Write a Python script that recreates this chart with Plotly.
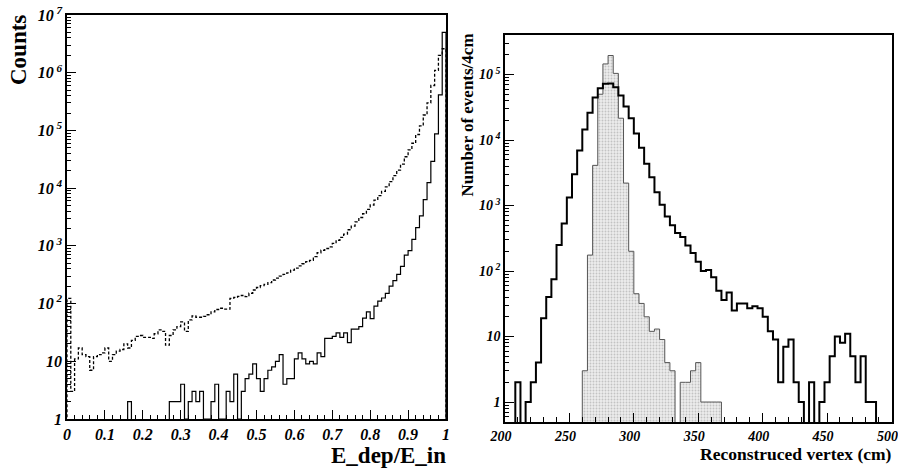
import plotly.graph_objects as go
import numpy as np

# ---------------- Left panel: E_dep/E_in (100 bins, 0..1) ----------------
edep_edges_lo = 0.0
edep_bin_w = 0.01
edep_all = [123, 3, 11, 17, 13, 12, 7, 12, 13, 14,
            17, 10, 13, 15, 16, 20, 17, 23, 27, 28,
            26, 26, 25, 30, 35, 33, 19, 28, 35, 40,
            48, 33, 52, 61, 58, 58, 60, 64, 72, 79,
            83, 80, 80, 123, 128, 133, 138, 132, 151, 172,
            190, 205, 215, 230, 256, 275, 300, 320, 340, 380,
            410, 450, 490, 531, 560, 650, 760, 840, 900, 960,
            1100, 1250, 1400, 1600, 1900, 2200, 2600, 3100, 3600, 4300,
            5100, 6200, 7400, 8800, 10500, 13000, 16500, 20500, 26000, 35000,
            46000, 60000, 85000, 120000, 185000, 300000, 600000, 1100000, 2000000, 2600000]
edep_sel = [0, 0, 0, 0, 0, 0, 0, 0, 0, 0,
            0, 0, 0, 0, 0, 0, 2, 0, 0, 0,
            0, 0, 0, 0, 0, 0, 0, 2, 2, 2,
            4, 1, 2, 3, 2, 3, 1, 1, 2, 4,
            1, 1, 3, 2, 6, 1, 3, 5, 6, 9,
            5, 3, 5, 7, 8, 10, 13, 4, 5, 5,
            11, 14, 11, 9, 10, 9, 14, 12, 25, 25,
            27, 31, 26, 31, 21, 36, 36, 40, 56, 72,
            55, 90, 110, 125, 150, 200, 250, 320, 440, 690,
            830, 1300, 2070, 3300, 6300, 12500, 29000, 87000, 412000, 5000000]

# ---------------- Right panel: reconstructed vertex (4 cm bins, 200..500) ----------------
vtx_lo = 200
vtx_bin_w = 4
vtx_all = [0, 0, 2, 0, 1, 2, 4, 19, 40, 75,
           250, 530, 1330, 3000, 6900, 14500, 26000, 44500, 61500, 72000,
           73000, 64000, 48000, 32500, 21500, 12600, 7600, 4350, 2700, 1600,
           1030, 680, 500, 380, 330, 245, 188, 138, 100, 104,
           80, 50, 36, 47, 25, 32, 32, 27, 29, 27,
           20, 12, 9, 2, 7, 9, 2, 1, 0, 2,
           0, 1, 2, 5, 10, 8, 11, 5, 2, 5,
           1, 1, 0, 0, 0]
vtx_shaded = [0, 0, 0, 0, 0, 0, 0, 0, 0, 0,
              0, 0, 0, 0, 0, 3, 175, 4100, 50000, 145000,
              195000, 104000, 21500, 2200, 200, 45, 32, 20, 12, 13,
              9, 4, 3, 0, 2, 2, 3, 4, 1, 1,
              1, 1, 0, 0, 0, 0, 0, 0, 0, 0,
              0, 0, 0, 0, 0, 0, 0, 0, 0, 0,
              0, 0, 0, 0, 0, 0, 0, 0, 0, 0,
              0, 0, 0, 0, 0]

TINY = 1e-3


def step_xy(lo, w, vals):
    n = len(vals)
    edges = [lo + w * i for i in range(n + 1)]
    v = [x if x > 0 else TINY for x in vals]
    xs = [edges[0]] + edges[:n] + [edges[n], edges[n]]
    ys = [TINY] + v + [v[-1], TINY]
    return xs, ys


W, H = 898, 471
serif = "Liberation Serif"

fig = go.Figure()

# left panel
x, y = step_xy(edep_edges_lo, edep_bin_w, edep_all)
fig.add_trace(go.Scatter(x=x, y=y, mode="lines", line=dict(shape="hv", color="black", width=1.3, dash="3px,2px"),
                         xaxis="x", yaxis="y", showlegend=False, hoverinfo="skip"))
x, y = step_xy(edep_edges_lo, edep_bin_w, edep_sel)
fig.add_trace(go.Scatter(x=x, y=y, mode="lines", line=dict(shape="hv", color="black", width=1.2),
                         xaxis="x", yaxis="y", showlegend=False, hoverinfo="skip"))

# right panel
x, y = step_xy(vtx_lo, vtx_bin_w, vtx_shaded)
fig.add_trace(go.Scatter(x=x, y=y, mode="lines", line=dict(shape="hv", color="#555555", width=1),
                         fill="toself", fillcolor="#e6e6e6",
                         fillpattern=dict(shape=".", bgcolor="#ececec", fgcolor="#9a9a9a", size=3, solidity=0.3),
                         xaxis="x2", yaxis="y2", showlegend=False, hoverinfo="skip"))
x, y = step_xy(vtx_lo, vtx_bin_w, vtx_all)
fig.add_trace(go.Scatter(x=x, y=y, mode="lines", line=dict(shape="hv", color="black", width=2),
                         xaxis="x2", yaxis="y2", showlegend=False, hoverinfo="skip"))


def px_x(p):
    return p / W


def px_y(p):
    return 1 - p / H


def sup(d):
    return "1" if d == 0 else ("10" if d == 1 else "10<sup> %d</sup>" % d)


def log_minor(d0, d1):
    vals = []
    for d in range(d0, d1 + 1):
        for m in range(2, 10):
            vals.append(m * 10 ** d)
    return vals


tick_font_l = dict(family=serif, size=16, color="black", weight="bold", style="italic")
tick_font_r = dict(family=serif, size=14, color="black", weight="bold", style="italic")
axcommon = dict(showline=True, linecolor="black", linewidth=1.5, mirror=True, showgrid=False,
                zeroline=False, ticks="inside", tickcolor="black", tickwidth=1, automargin=False,
                ticklabeloverflow="allow")

fig.update_layout(
    width=W, height=H, margin=dict(l=0, r=0, t=0, b=0),
    paper_bgcolor="white", plot_bgcolor="white",
    xaxis=dict(domain=[px_x(67), px_x(446)], range=[0, 1], anchor="y",
               tickvals=[0, 0.1, 0.2, 0.3, 0.4, 0.5, 0.6, 0.7, 0.8, 0.9, 1],
               ticktext=["0", "0.1", "0.2", "0.3", "0.4", "0.5", "0.6", "0.7", "0.8", "0.9", "1"],
               ticklen=9, tickfont=tick_font_l,
               minor=dict(ticks="inside", ticklen=4, tickcolor="black", dtick=0.02, tick0=0), **axcommon),
    yaxis=dict(domain=[px_y(419), px_y(15)], type="log", range=[0, 7], anchor="x",
               tickvals=[10 ** d for d in range(0, 8)], ticktext=[sup(d) for d in range(0, 8)],
               ticklen=9, tickfont=tick_font_l,
               minor=dict(ticks="inside", ticklen=4, tickcolor="black", tickvals=log_minor(0, 6)), **axcommon),
    xaxis2=dict(domain=[px_x(505), px_x(891.5)], range=[200, 500], anchor="y2",
                tickvals=[200, 250, 300, 350, 400, 450, 500],
                ticktext=["200", "250", "300", "350", "400", "450", "500"],
                ticklen=9, tickfont=tick_font_r, ticklabelshift=-4,
                minor=dict(ticks="inside", ticklen=5, tickcolor="black", dtick=10, tick0=200), **axcommon),
    yaxis2=dict(domain=[px_y(422), px_y(35)], type="log", range=[-0.305, 5.603], anchor="x2",
                tickvals=[10 ** d for d in range(0, 6)], ticktext=[sup(d) for d in range(0, 6)],
                ticklen=9, tickfont=tick_font_r,
                minor=dict(ticks="inside", ticklen=4, tickcolor="black", tickvals=log_minor(-1, 5)), **axcommon),
    annotations=[
        dict(text="<b>Counts</b>", x=px_x(18), y=px_y(13), xref="paper", yref="paper",
             xanchor="center", yanchor="top", textangle=-90, showarrow=False,
             font=dict(family=serif, size=23, color="black")),
        dict(text="<b>E_dep/E_in</b>", x=px_x(448), y=px_y(455), xref="paper", yref="paper",
             xanchor="right", yanchor="middle", showarrow=False,
             font=dict(family=serif, size=23, color="black")),
        dict(text="<b>Number of events/4cm</b>", x=px_x(467), y=px_y(32), xref="paper", yref="paper",
             xanchor="center", yanchor="top", textangle=-90, showarrow=False,
             font=dict(family=serif, size=17, color="black")),
        dict(text="<b>Reconstruced vertex (cm)</b>", x=px_x(894), y=px_y(454), xref="paper", yref="paper",
             xanchor="right", yanchor="middle", showarrow=False,
             font=dict(family=serif, size=17.5, color="black")),
    ],
)

fig.write_html("out.html", config={"displayModeBar": False},
               post_script="document.body.style.margin='0';document.body.style.padding='0';")
